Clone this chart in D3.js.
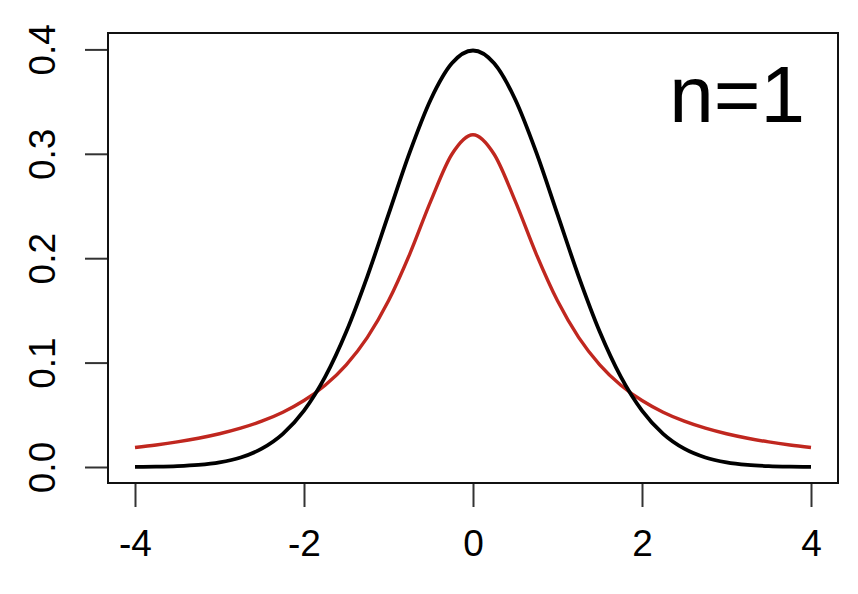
<!DOCTYPE html>
<html>
<head>
<meta charset="utf-8">
<script src="https://cdn.jsdelivr.net/npm/d3@7"></script>
<style>
  html, body { margin: 0; padding: 0; background: #fff; }
  svg { display: block; }
  text { font-family: "Liberation Sans", Arial, Helvetica, sans-serif; fill: #000; }
</style>
</head>
<body>
<svg id="chart" width="858" height="594"></svg>
<script>
// x grid of the curves
const xs = [-4, -3.75, -3.5, -3.25, -3, -2.75, -2.5, -2.25, -2, -1.75, -1.5, -1.25, -1, -0.75, -0.5, -0.25,
            0, 0.25, 0.5, 0.75, 1, 1.25, 1.5, 1.75, 2, 2.25, 2.5, 2.75, 3, 3.25, 3.5, 3.75, 4];
// black curve (normal density)
const normalVals = [0.00013, 0.00035, 0.00087, 0.00203, 0.00443, 0.00909, 0.01753, 0.03174, 0.05399, 0.08628,
                    0.12952, 0.18265, 0.24197, 0.30114, 0.35207, 0.38667, 0.39894, 0.38667, 0.35207, 0.30114,
                    0.24197, 0.18265, 0.12952, 0.08628, 0.05399, 0.03174, 0.01753, 0.00909, 0.00443, 0.00203,
                    0.00087, 0.00035, 0.00013];
// red curve (t with 1 df)
const tVals = [0.01872, 0.02113, 0.02402, 0.02753, 0.03183, 0.03718, 0.04390, 0.05251, 0.06366, 0.07835,
               0.09794, 0.12422, 0.15915, 0.20372, 0.25465, 0.29959, 0.31831, 0.29959, 0.25465, 0.20372,
               0.15915, 0.12422, 0.09794, 0.07835, 0.06366, 0.05251, 0.04390, 0.03718, 0.03183, 0.02753,
               0.02402, 0.02113, 0.01872];
const xTicks = [-4, -2, 0, 2, 4];
const yTicks = [0.0, 0.1, 0.2, 0.3, 0.4];
const label = "n=1";

const svg = d3.select("#chart");
const box = {left: 108, right: 838, top: 33, bottom: 483};

const x = d3.scaleLinear().domain([-4, 4]).range([135, 811]);
const y = d3.scaleLinear().domain([0, 0.4]).range([467, 49.4]);

// axes
const xAxis = d3.axisBottom(x).tickValues(xTicks).tickSize(24).tickPadding(30)
  .tickFormat(d => d3.format("d")(d).replace("\u2212", "-"));
const gx = svg.append("g").attr("transform", `translate(0,${box.bottom})`).call(xAxis);
gx.select(".domain").remove();
gx.selectAll(".tick line").attr("stroke", "#333").attr("stroke-width", 2);
gx.selectAll(".tick text").attr("font-size", 37).attr("dy", "0.71em").attr("y", 47)
  .style("font-family", "'Liberation Sans', Arial, sans-serif");

const yAxis = d3.axisLeft(y).tickValues(yTicks).tickSize(23).tickFormat(d3.format(".1f"));
const gy = svg.append("g").attr("transform", `translate(${box.left},0)`).call(yAxis);
gy.select(".domain").remove();
gy.selectAll(".tick line").attr("stroke", "#333").attr("stroke-width", 2);
gy.selectAll(".tick text")
  .attr("x", null).attr("dy", null)
  .attr("text-anchor", "middle")
  .attr("transform", "translate(-53,0) rotate(-90)")
  .attr("font-size", 37)
  .style("font-family", "'Liberation Sans', Arial, sans-serif");

// plot box
svg.append("rect")
  .attr("x", box.left).attr("y", box.top)
  .attr("width", box.right - box.left).attr("height", box.bottom - box.top)
  .attr("fill", "none").attr("stroke", "#111").attr("stroke-width", 2);

const line = d3.line().x(d => x(d[0])).y(d => y(d[1])).curve(d3.curveMonotoneX);

svg.append("path").datum(xs.map((v, i) => [v, tVals[i]]))
  .attr("d", line).attr("fill", "none").attr("stroke", "#c0271f").attr("stroke-width", 3.4);
svg.append("path").datum(xs.map((v, i) => [v, normalVals[i]]))
  .attr("d", line).attr("fill", "none").attr("stroke", "#000").attr("stroke-width", 3.8);

svg.append("text").attr("x", 805).attr("y", 122).attr("text-anchor", "end")
  .attr("font-size", 80).text(label);
</script>
</body>
</html>
